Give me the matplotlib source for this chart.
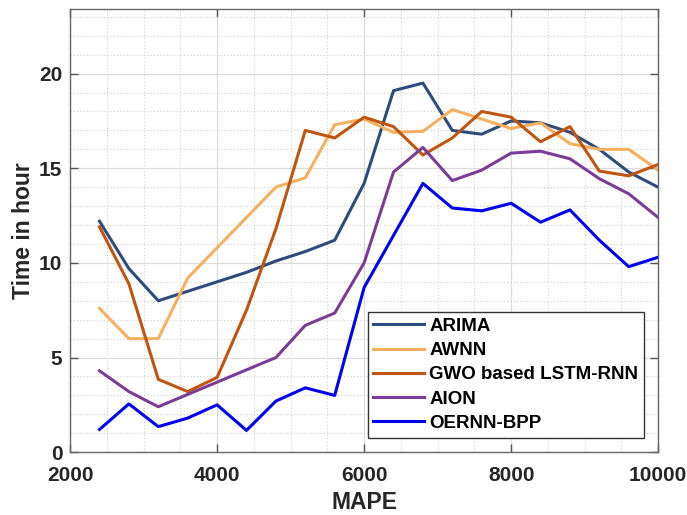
import matplotlib
matplotlib.use("Agg")
import matplotlib.pyplot as plt
from matplotlib.ticker import MultipleLocator

# x axis (MAPE)
mape = [2400, 2800, 3200, 3600, 4000, 4400, 4800, 5200, 5600, 6000,
        6400, 6800, 7200, 7600, 8000, 8400, 8800, 9200, 9600, 10000]

# time in hour for each method
arima = [12.2, 9.7, 8.0, 8.5, 9.0, 9.5, 10.1, 10.6, 11.2, 14.2,
         19.1, 19.5, 17.0, 16.8, 17.5, 17.4, 16.9, 16.0, 14.8, 14.0]
awnn = [7.6, 6.0, 6.0, 9.2, 10.8, 12.4, 14.0, 14.5, 17.3, 17.6,
        16.9, 16.95, 18.1, 17.6, 17.1, 17.4, 16.3, 16.0, 16.0, 14.9]
gwo = [11.9, 8.9, 3.85, 3.2, 3.95, 7.5, 11.8, 17.0, 16.6, 17.7,
       17.2, 15.7, 16.6, 18.0, 17.7, 16.4, 17.2, 14.85, 14.6, 15.2]
aion = [4.3, 3.2, 2.4, 3.05, 3.7, 4.35, 5.0, 6.7, 7.35, 10.0,
        14.8, 16.1, 14.35, 14.9, 15.8, 15.9, 15.5, 14.45, 13.65, 12.4]
oernn = [1.2, 2.55, 1.35, 1.8, 2.5, 1.15, 2.7, 3.4, 3.0, 8.7,
         11.45, 14.2, 12.9, 12.75, 13.15, 12.15, 12.8, 11.2, 9.8, 10.3]

labels = ["ARIMA", "AWNN", "GWO based LSTM-RNN", "AION", "OERNN-BPP"]
colors = ["#2f4b7c", "#f7b060", "#c0550f", "#7a3d96", "#0000ee"]

plt.rcParams['font.family'] = ['Liberation Sans', 'DejaVu Sans']
plt.rcParams['font.weight'] = 'bold'

fig = plt.figure(figsize=(6.87, 5.15), dpi=100)
ax = fig.add_axes([0.102, 0.122, 0.856, 0.860])

for y, lab, c in zip([arima, awnn, gwo, aion, oernn], labels, colors):
    ax.plot(mape, y, color=c, lw=2.2, label=lab)

ax.set_xlim(2000, 10000)
ax.set_ylim(0, 23.4)
ax.xaxis.set_major_locator(MultipleLocator(2000))
ax.xaxis.set_minor_locator(MultipleLocator(500))
ax.yaxis.set_major_locator(MultipleLocator(5))
ax.yaxis.set_minor_locator(MultipleLocator(1))

ax.grid(which='major', color='#dcdcdc', lw=0.9, ls='-')
ax.grid(which='minor', color='#d0d0d0', lw=0.8, ls=(0, (1, 2)))
ax.set_axisbelow(True)

ax.tick_params(which='major', direction='in', top=True, right=True,
               length=6, width=1, color='#555555', labelsize=15,
               labelcolor='#262626')
ax.tick_params(axis='x', which='major', pad=10)
ax.tick_params(axis='y', which='major', pad=5.5)
ax.tick_params(which='minor', length=0)
for s in ax.spines.values():
    s.set_color('#666666')
    s.set_linewidth(1.0)

ax.set_xlabel("MAPE", fontsize=16.5, fontweight='bold', labelpad=4,
              color='#262626')
ax.set_ylabel("Time in hour", fontsize=16.5, fontweight='bold', labelpad=3,
              color='#262626')

leg = ax.legend(loc='lower right', bbox_to_anchor=(0.976, 0.033),
                fontsize=13.5, frameon=True, fancybox=False,
                edgecolor='#333333', framealpha=1, handlelength=2.7,
                handletextpad=0.3, labelspacing=0.38, borderpad=0.3,
                borderaxespad=0)
leg.get_frame().set_linewidth(1.0)

fig.savefig("out.png", dpi=100)
